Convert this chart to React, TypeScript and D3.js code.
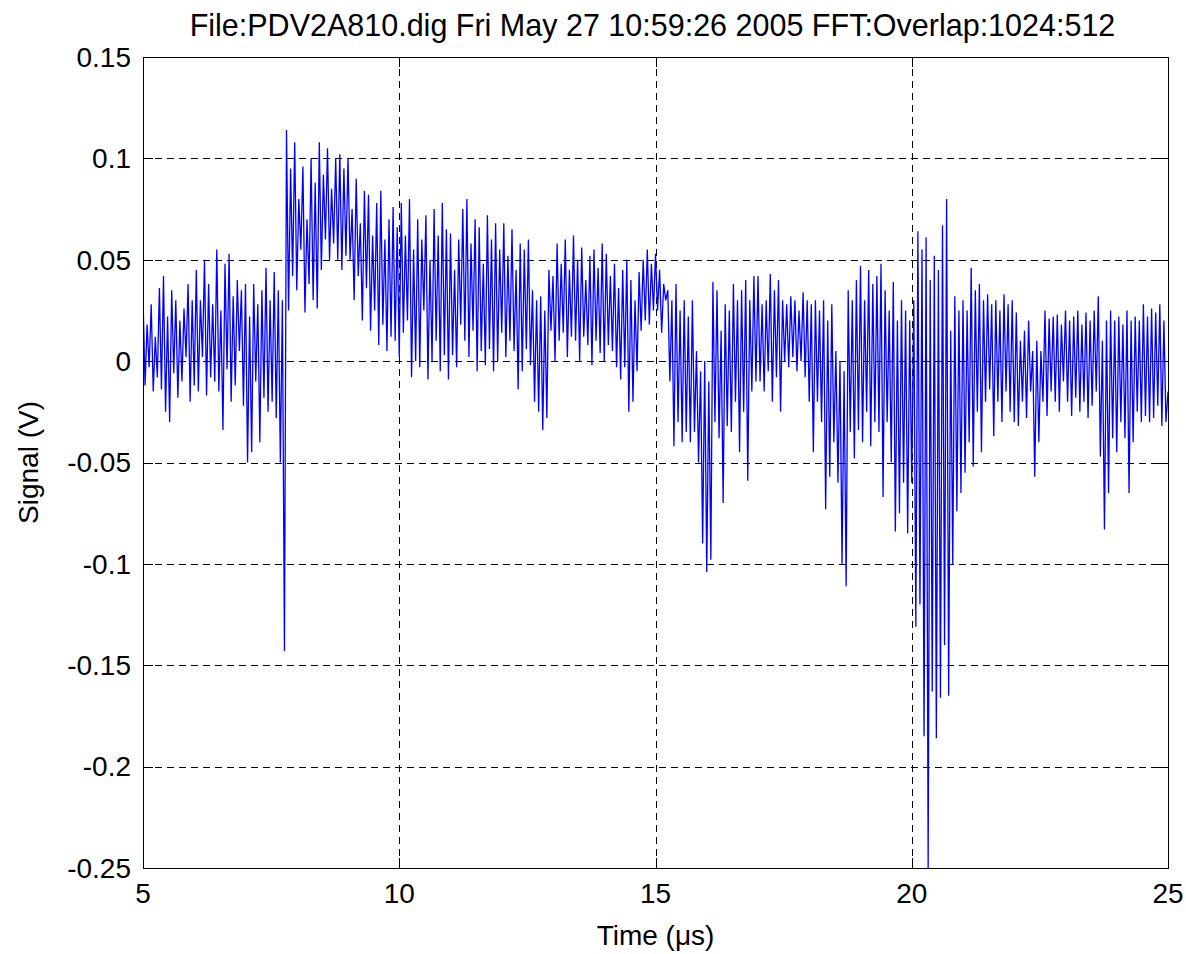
import React from 'react';
import * as d3 from 'd3';

// Time axis of the sampled signal (µs)
const T_START = 5;
const T_STEP = 0.04;

// Signal samples in millivolts (one row = 1 µs), 5–10 µs
const sig5to10 = [
  32, -12, 18, -3, 28, -15, 12, -8, 36, -14, 42, -25, 22, -30, 35, -6, 30, -18, 20, -10, 26, 2, 38, -20, 30,
  -12, 45, -15, 30, 2, 50, -17, 38, -8, 28, -10, 55, -15, 25, -34, 48, -4, 53, -20, 32, -12, 40, 5, 35, -22,
  38, -50, 22, -45, 38, -10, 28, -40, 35, -18, 46, -25, 30, -20, 44, -28, 35, -50, 30, -143, 114, 25, 95, 42, 108,
  35, 80, 55, 96, 24, 70, 38, 100, 30, 88, 26, 108, 45, 92, 60, 105, 50, 85, 58, 100, 50, 102, 45, 95, 52,
  100, 50, 75, 30, 90, 42, 68, 20, 84, 36, 82, 15, 62, 25, 78, 8, 84, 18, 60, 5, 70, 12, 76, 10, 66,
];
// 10–15 µs
const sig10to15 = [
  2, 78, 14, 62, 20, 80, -8, 55, 0, 70, -3, 60, 25, 72, -9, 50, 0, 75, 10, 62, -5, 78, 3, 65, -9,
  63, 3, 45, -3, 60, 18, 75, 10, 80, 2, 58, 15, 70, -5, 66, 5, 48, -2, 72, 6, 60, -5, 68, 0, 55,
  14, 68, 2, 52, 10, 65, 5, 45, -14, 58, -5, 55, 6, 60, -2, 35, -20, 30, -25, 32, -34, 25, -28, 45, 15,
  42, 0, 58, 10, 48, 14, 60, 2, 45, 12, 62, 10, 50, 0, 56, 12, 40, 8, 52, -2, 55, 10, 46, 4, 58,
  0, 53, 8, 42, 5, 48, -3, 36, -9, 45, -3, 50, -25, 40, -20, 30, -5, 44, 15, 50, 20, 55, 18, 48, 25,
];
// 15–20 µs
const sig15to20 = [
  53, 25, 45, 14, 38, 30, 35, -10, 30, -42, 38, -30, 25, -40, 30, -35, 22, -40, 30, -35, 5, -50, -5, -90, 0,
  -104, -10, -98, 39, -30, 35, -38, 15, -70, 28, -32, 25, -35, 38, -20, 30, -45, 35, -25, 40, -59, 30, -15, 42, -10,
  42, -10, 28, -15, 30, -5, 43, -20, 35, -8, 40, -25, 30, 0, 28, -3, 32, 2, 30, -5, 25, 0, 34, -8, 30,
  -20, 28, -45, 30, -20, 25, -30, 30, -73, 20, -57, 28, -40, 5, -60, 0, -100, -5, -111, 35, -35, 30, -48, 40, -34,
  47, -40, 30, -25, 45, -42, 38, -30, 42, -35, 48, -67, 35, -30, 25, -50, 39, -84, 20, -75, 30, -60, 25, -85, 20,
];
// 20–25 µs
const sig20to25 = [
  -60, 30, -131, 64, -120, 55, -185, 61, -250, 40, -163, 52, -186, 45, -166, 67, -140, 80, -165, 15, -100, 32, -74, 25, -65,
  30, -55, 25, -40, 46, -52, 35, -25, 38, -45, 30, -20, 33, -14, 28, -37, 30, -20, 25, -30, 33, -15, 28, -25, 30,
  -30, 24, -32, 10, -20, 15, -28, 20, -15, 5, -57, 10, -40, 5, -20, 25, -27, 21, -15, 22, -20, 23, -25, 18, -10,
  25, -20, 20, -27, 22, -18, 25, -25, 18, -20, 24, -28, 20, -22, 25, -15, 32, -47, 10, -83, 20, -65, 25, -38, 20,
  -45, 22, -30, 18, -38, 25, -65, 20, -40, 22, -25, 20, -30, 28, -27, 22, -30, 26, -28, 24, -22, 28, -32, 20, -30,
  -15,
];

const xTicks = [5, 10, 15, 20, 25];
const xTickLabels = ['5', '10', '15', '20', '25'];
const yTicks = [-0.25, -0.2, -0.15, -0.1, -0.05, 0, 0.05, 0.1, 0.15];
const yTickLabels = ['-0.25', '-0.2', '-0.15', '-0.1', '-0.05', '0', '0.05', '0.1', '0.15'];

const titleText = 'File:PDV2A810.dig Fri May 27 10:59:26 2005 FFT:Overlap:1024:512';
const xLabel = 'Time (\u03bcs)';
const yLabel = 'Signal (V)';

export default function App() {
  const W = 1186;
  const H = 954;
  const left = 143, right = 1168, top = 57, bottom = 868;
  const x = d3.scaleLinear().domain([5, 25]).range([left, right]);
  const y = d3.scaleLinear().domain([-0.25, 0.15]).range([bottom, top]);

  const all = [...sig5to10, ...sig10to15, ...sig15to20, ...sig20to25];
  const data = all.map((mv, i) => ({ t: T_START + i * T_STEP, v: mv / 1000 }));
  const line = d3.line<{ t: number; v: number }>().x(d => x(d.t)).y(d => y(d.v));

  const font = '"Liberation Sans", Arial, Helvetica, sans-serif';
  const fs = 28;
  const tickLen = 10;

  return (
    <svg width={W} height={H} style={{ position: 'absolute', left: 0, top: 0, background: '#fff' }}
      fontFamily={font}>
      <rect x={0} y={0} width={W} height={H} fill="#fff" />
      <defs>
        <clipPath id="plotClip">
          <rect x={left} y={top} width={right - left} height={bottom - top} />
        </clipPath>
      </defs>
      {/* grid */}
      <g stroke="#000" strokeWidth={1} strokeDasharray="7,5" shapeRendering="crispEdges">
        {xTicks.filter(t => t > 5 && t < 25).map(t => (
          <line key={'gx' + t} x1={Math.round(x(t)) + 0.5} x2={Math.round(x(t)) + 0.5} y1={bottom} y2={top} />
        ))}
        {yTicks.filter(t => t > -0.25 && t < 0.15).map(t => (
          <line key={'gy' + t} x1={left} x2={right} y1={Math.round(y(t)) + 0.5} y2={Math.round(y(t)) + 0.5} />
        ))}
      </g>
      {/* signal */}
      <path d={line(data) || ''} fill="none" stroke="#0000ff" strokeWidth={1.3} strokeLinejoin="miter"
        strokeMiterlimit={1.5} clipPath="url(#plotClip)" />
      {/* box and ticks */}
      <g stroke="#000" strokeWidth={1} shapeRendering="crispEdges">
        <rect x={left + 0.5} y={top + 0.5} width={right - left} height={bottom - top} fill="none" />
        {xTicks.map(t => (
          <g key={'tx' + t}>
            <line x1={Math.round(x(t)) + 0.5} x2={Math.round(x(t)) + 0.5} y1={bottom} y2={bottom - tickLen} />
            <line x1={Math.round(x(t)) + 0.5} x2={Math.round(x(t)) + 0.5} y1={top} y2={top + tickLen} />
          </g>
        ))}
        {yTicks.map(t => (
          <g key={'ty' + t}>
            <line x1={left} x2={left + tickLen} y1={Math.round(y(t)) + 0.5} y2={Math.round(y(t)) + 0.5} />
            <line x1={right} x2={right - tickLen} y1={Math.round(y(t)) + 0.5} y2={Math.round(y(t)) + 0.5} />
          </g>
        ))}
      </g>
      {/* tick labels */}
      <g fontSize={fs} fill="#000">
        {xTicks.map((t, i) => (
          <text key={'lx' + t} x={x(t)} y={bottom + 35} textAnchor="middle">{xTickLabels[i]}</text>
        ))}
        {yTicks.map((t, i) => (
          <text key={'ly' + t} x={left - 12} y={y(t)} dy="0.35em" textAnchor="end">{yTickLabels[i]}</text>
        ))}
      </g>
      <text x={(left + right) / 2} y={945} textAnchor="middle" fontSize={fs}>{xLabel}</text>
      <text transform={`translate(38, ${(top + bottom) / 2}) rotate(-90)`} textAnchor="middle" fontSize={fs}>{yLabel}</text>
      <text x={(left + right) / 2 - 3} y={36} textAnchor="middle" fontSize={30.5}>{titleText}</text>
    </svg>
  );
}
